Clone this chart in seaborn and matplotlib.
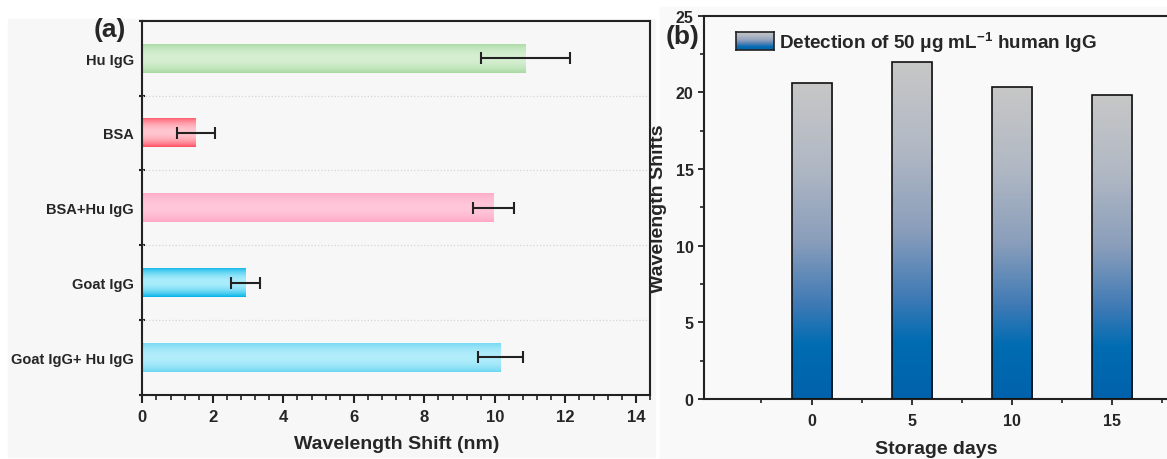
import numpy as np
import pandas as pd
import matplotlib
matplotlib.use("Agg")
import matplotlib.pyplot as plt
import seaborn as sns
from matplotlib.colors import LinearSegmentedColormap, to_rgb
from matplotlib.patches import Rectangle, Patch
from matplotlib.ticker import MultipleLocator

# ---------------- data ----------------
samples = ["Hu IgG", "BSA", "BSA+Hu IgG", "Goat IgG", "Goat IgG+ Hu IgG"]
shift_nm = [10.87, 1.52, 9.97, 2.93, 10.17]
shift_err = [1.25, 0.53, 0.58, 0.41, 0.64]

storage_days = [0, 5, 10, 15]
wavelength_shifts = [20.6, 21.95, 20.34, 19.86]

# bar colours (edge shade, centre shade) for panel (a)
edge_cols = ["#a6d9a0", "#ff4d60", "#ffa6c4", "#00b2e6", "#6cd6f2"]
centre_cols = ["#d6efd1", "#ffc6d0", "#ffc6da", "#aaedfc", "#b2edfb"]

# ---------------- style ----------------
sns.set_theme(style="ticks")
plt.rcParams["font.family"] = ["Liberation Sans", "DejaVu Sans"]
plt.rcParams["font.weight"] = "bold"
plt.rcParams["axes.labelweight"] = "bold"
plt.rcParams["mathtext.fontset"] = "custom"
plt.rcParams["mathtext.rm"] = "Liberation Sans"
plt.rcParams["mathtext.bf"] = "Liberation Sans:bold"

W, H = 1167, 460
fig = plt.figure(figsize=(W / 100, H / 100), dpi=100)
fig.patch.set_facecolor("white")

# panel backgrounds
fig.patches.append(Rectangle((8 / W, 1 - 458 / H), (655 - 8) / W, (458 - 20) / H,
                             transform=fig.transFigure, color="#f7f7f7", zorder=-5))
fig.patches.append(Rectangle((660 / W, 0), (W - 660) / W, 1 - 8 / H,
                             transform=fig.transFigure, color="#f9f9f9", zorder=-5))

spine_col = "#222222"

# ---------------- panel (a) ----------------
axA = fig.add_axes([142.3 / W, 1 - 395.7 / H, 508 / W, 374 / H])
axA.set_facecolor("none")
dfA = pd.DataFrame({"sample": samples, "shift": shift_nm})
sns.barplot(data=dfA, x="shift", y="sample", order=samples, orient="h", width=0.39,
            errorbar=None, ax=axA, color="#cccccc", linewidth=0, edgecolor="none")

N = 64
t = np.linspace(0, 1, N)
prof = np.sin(np.pi * t) ** 0.8
for i, p in enumerate(axA.patches):
    e = np.array(to_rgb(edge_cols[i]))
    c = np.array(to_rgb(centre_cols[i]))
    grad = e[None, :] + (c - e)[None, :] * prof[:, None]
    img = grad[:, None, :]
    x0, y0, w, h = p.get_x(), p.get_y(), p.get_width(), p.get_height()
    im = axA.imshow(img, extent=[x0, x0 + w, y0, y0 + h], aspect="auto",
                    origin="lower", interpolation="bilinear", zorder=2)
    im.set_clip_path(p)
    p.set_facecolor("none")
    p.set_zorder(3)

axA.errorbar(shift_nm, np.arange(len(samples)), xerr=shift_err, fmt="none",
             ecolor="#222222", elinewidth=1.5, capsize=4, capthick=1.5, zorder=5)

for b in np.arange(0.5, len(samples) - 0.5, 1):
    axA.axhline(b, color="#d5d5d5", ls=":", lw=0.9, zorder=1)

axA.set_xlim(0, 14.41)
axA.set_ylim(len(samples) - 0.5, -0.5)
axA.set_xticks(np.arange(0, 15, 2))
axA.xaxis.set_minor_locator(MultipleLocator(0.4))
axA.set_yticks(np.arange(-0.5, len(samples), 1), labels=[""] * (len(samples) + 1))
axA.set_yticks(np.arange(len(samples)), labels=samples, minor=True)
axA.tick_params(axis="y", which="minor", length=0, pad=6, labelsize=10.5)
axA.tick_params(axis="y", which="major", direction="inout", length=5, width=1.5, color=spine_col)
axA.tick_params(axis="x", which="major", direction="out", length=6, width=1.5,
                labelsize=12, pad=4, color=spine_col)
axA.tick_params(axis="x", which="minor", direction="out", length=3.5, width=1.2, color=spine_col)
for lab in axA.get_xticklabels() + axA.get_yticklabels(minor=True):
    lab.set_fontweight("bold")
axA.set_ylabel("")
axA.set_xlabel("Wavelength Shift (nm)", fontsize=14, fontweight="bold", labelpad=8)
for s in axA.spines.values():
    s.set_visible(True)
    s.set_linewidth(1.5)
    s.set_color(spine_col)

fig.text(110 / W, 1 - 30 / H, "(a)", fontsize=19, fontweight="bold", ha="center", va="center")

# ---------------- panel (b) ----------------
axB = fig.add_axes([704 / W, 1 - 400 / H, 465 / W, 383.3 / H])
axB.set_facecolor("none")
dfB = pd.DataFrame({"day": storage_days, "shift": wavelength_shifts})
sns.barplot(data=dfB, x="day", y="shift", native_scale=True, width=0.4, errorbar=None,
            ax=axB, color="#8ca0bc", edgecolor="#111111", linewidth=1.2)

cmapB = LinearSegmentedColormap.from_list(
    "bluegray",
    [(0.0, "#0062ac"), (0.17, "#006cb2"), (0.3, "#3f7ab5"), (0.5, "#8a9ebb"),
     (0.75, "#b2b9c4"), (1.0, "#c7c7c7")])
gradB = cmapB(np.linspace(0, 1, 256))[:, None, :]
for p in axB.patches:
    x0, y0, w, h = p.get_x(), p.get_y(), p.get_width(), p.get_height()
    im = axB.imshow(gradB, extent=[x0, x0 + w, y0, y0 + h], aspect="auto",
                    origin="lower", interpolation="bilinear", zorder=2)
    im.set_clip_path(p)
    p.set_facecolor("none")
    p.set_zorder(3)

axB.set_xlim(-5.37, 17.85)
axB.set_ylim(0, 25)
axB.set_xticks(storage_days)
axB.set_xticks(np.arange(-2.5, 18, 5), minor=True)
axB.set_yticks(np.arange(0, 26, 5))
axB.yaxis.set_minor_locator(MultipleLocator(2.5))
axB.tick_params(axis="both", which="major", direction="out", length=4, width=1.3,
                labelsize=11.5, color=spine_col)
axB.tick_params(axis="x", which="major", pad=6)
axB.tick_params(axis="both", which="minor", direction="out", length=3, width=1.2, color=spine_col)
for lab in axB.get_xticklabels() + axB.get_yticklabels():
    lab.set_fontweight("bold")
axB.set_xlabel("Storage days", fontsize=14, fontweight="bold", labelpad=9)
axB.set_ylabel("Wavelength Shifts", fontsize=14, fontweight="bold", labelpad=6)
for s in axB.spines.values():
    s.set_visible(True)
    s.set_linewidth(1.5)
    s.set_color(spine_col)

leg = axB.legend(handles=[Patch(facecolor="#8ca0bc", edgecolor="#222222", linewidth=1.2)],
                 labels=[r"Detection of 50 μg mL$^{\mathbf{-1}}$ human IgG"],
                 loc="upper left", bbox_to_anchor=(736 / W, 1 - 30 / H),
                 bbox_transform=fig.transFigure, frameon=False, borderpad=0,
                 borderaxespad=0, handlelength=2.0, handleheight=1.1,
                 handletextpad=0.3, prop={"size": 13.6, "weight": "bold"})

fig.text(683 / W, 1 - 37 / H, "(b)", fontsize=19, fontweight="bold", ha="center", va="center")

# gradient legend key
fig.canvas.draw()
hnd = leg.legend_handles[0]
bb = hnd.get_window_extent(fig.canvas.get_renderer()).transformed(fig.transFigure.inverted())
axL = fig.add_axes([bb.x0, bb.y0, bb.width, bb.height])
axL.imshow(gradB, aspect="auto", origin="lower", interpolation="bilinear")
axL.set_xticks([])
axL.set_yticks([])
for s in axL.spines.values():
    s.set_visible(True)
    s.set_linewidth(1.2)
    s.set_color("#222222")
hnd.set_visible(False)

fig.savefig("out.png", dpi=100)
